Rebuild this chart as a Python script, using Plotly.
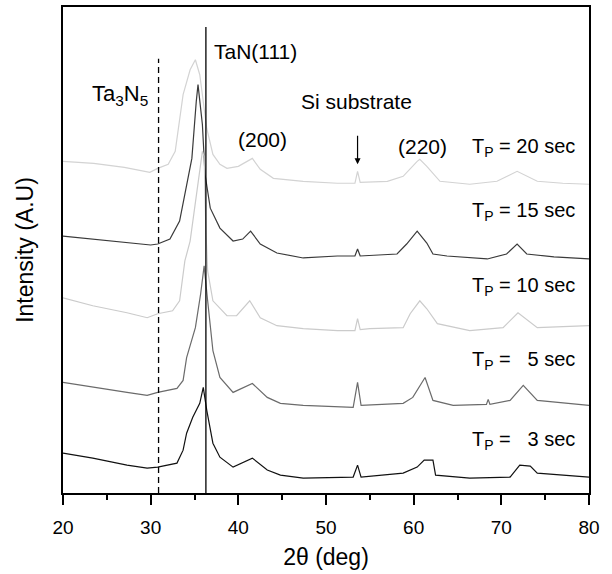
import plotly.graph_objects as go

# ---- data (2theta in degrees, intensity in arbitrary units incl. vertical offset) ----
tp20_x = [20.0, 23.5, 27.0, 29.9, 30.8, 32.0, 32.8, 33.7, 34.5, 35.1, 35.6, 36.0, 36.4, 37.1, 37.9, 38.7,
          40.0, 41.6, 42.5, 44.0, 47.4, 51.3, 53.3, 53.6, 53.9, 57.0, 58.8, 60.4, 60.7, 61.5, 63.0, 66.4,
          69.5, 71.8, 74.1, 77.0, 80.0]
tp20_y = [333, 331, 327, 322, 326, 330, 343, 400, 425, 435, 420, 393, 366, 340, 330, 326,
          328, 336, 325, 316, 313, 311, 311, 323, 312, 313, 318, 333, 335, 328, 313, 310,
          313, 323, 313, 311, 310]

tp15_x = [20.0, 23.5, 27.0, 30.0, 30.8, 32.2, 33.3, 34.1, 34.7, 35.2, 35.4, 35.9, 36.2, 36.8, 37.9, 39.4,
          40.5, 41.4, 42.5, 44.4, 47.4, 51.3, 53.3, 53.6, 53.9, 58.1, 59.2, 60.4, 60.7, 61.5, 62.2, 63.8,
          68.4, 70.6, 71.8, 72.9, 76.0, 80.0]
tp15_y = [258, 255, 252, 249, 250, 255, 273, 310, 336, 393, 410, 370, 320, 286, 266, 253,
          255, 263, 250, 241, 236, 238, 238, 245, 238, 240, 250, 263, 260, 251, 240, 238,
          235, 240, 250, 240, 237, 235]

tp10_x = [20.0, 23.4, 27.3, 29.6, 30.8, 32.5, 33.3, 33.9, 34.5, 35.1, 35.6, 35.9, 36.1, 36.3, 36.5, 37.1,
          38.7, 39.8, 41.3, 42.5, 44.4, 47.4, 51.3, 53.3, 53.6, 53.9, 55.0, 58.8, 59.6, 60.7, 61.5, 62.7,
          66.4, 70.2, 71.9, 74.1, 80.0]
tp10_y = [196, 188, 181, 176, 180, 183, 193, 233, 253, 293, 328, 343, 338, 263, 223, 193,
          178, 178, 193, 176, 168, 165, 163, 163, 175, 164, 165, 166, 180, 193, 185, 170,
          163, 166, 181, 166, 168]

tp5_x = [20.0, 23.4, 27.3, 29.6, 30.8, 33.0, 33.7, 34.1, 34.7, 35.1, 35.7, 36.1, 36.5, 37.1, 37.9, 39.4,
         41.6, 43.3, 44.8, 47.4, 53.1, 53.6, 54.0, 58.8, 59.9, 61.3, 62.2, 64.5, 68.3, 68.5, 68.7, 71.0,
         72.5, 74.1, 80.0]
tp5_y = [111, 106, 101, 98, 101, 105, 113, 136, 153, 166, 200, 228, 193, 143, 116, 101,
         110, 96, 90, 88, 86, 111, 88, 90, 96, 116, 93, 88, 89, 94, 89, 93,
         108, 93, 88]

tp3_x = [20.0, 23.4, 27.3, 29.6, 30.8, 33.0, 33.7, 34.1, 34.8, 35.6, 36.0, 36.4, 37.1, 37.9, 39.4, 41.6,
         43.3, 44.8, 47.4, 53.1, 53.6, 54.0, 58.8, 60.4, 61.2, 62.2, 62.5, 66.4, 71.0, 72.1, 73.3, 74.1,
         80.0]
tp3_y = [40, 35, 28, 25, 26, 30, 43, 60, 76, 90, 106, 83, 50, 36, 26, 35,
         23, 18, 15, 16, 28, 16, 20, 26, 33, 33, 18, 15, 16, 28, 27, 20,
         16]

series_names = ["T<sub>P</sub> = 20 sec", "T<sub>P</sub> = 15 sec", "T<sub>P</sub> = 10 sec",
                "T<sub>P</sub> =\u00a0\u00a0 5 sec", "T<sub>P</sub> =\u00a0\u00a0 3 sec"]
label_y = [347, 283, 207, 133, 53]

ta3n5_pos = 30.9
tan111_pos = 36.3
ref_line_top = [436, 468]
si_peak = (53.6, 330)

FONT = "Liberation Sans, Arial, sans-serif"
colors = ["#d3d3d3", "#3a3a3a", "#cbcbcb", "#6b6b6b", "#111111"]

fig = go.Figure()
for xs, ys, c in zip([tp20_x, tp15_x, tp10_x, tp5_x, tp3_x],
                     [tp20_y, tp15_y, tp10_y, tp5_y, tp3_y], colors):
    fig.add_trace(go.Scatter(x=xs, y=ys, mode="lines", line=dict(color=c, width=1.2),
                             showlegend=False, hoverinfo="skip"))

fig.add_trace(go.Scatter(x=[ta3n5_pos, ta3n5_pos], y=[0, ref_line_top[0]], mode="lines",
                         line=dict(color="black", width=1.3, dash="6px,4px"), showlegend=False))
fig.add_trace(go.Scatter(x=[tan111_pos, tan111_pos], y=[0, ref_line_top[1]], mode="lines",
                         line=dict(color="black", width=1.3), showlegend=False))

AF = dict(family=FONT, size=21, color="black")
anns = []
anns.append(dict(x=37.0, y=443, text="TaN(111)", xanchor="left", yanchor="middle", showarrow=False, font=AF))
anns.append(dict(x=29.9, y=400, text="Ta<sub>3</sub>N<sub>5</sub>", xanchor="right", yanchor="middle",
                 showarrow=False, font=dict(family=FONT, size=22, color="black")))
anns.append(dict(x=42.75, y=355, text="(200)", xanchor="center", yanchor="middle", showarrow=False, font=AF))
anns.append(dict(x=53.5, y=393, text="Si substrate", xanchor="center", yanchor="middle", showarrow=False, font=AF))
anns.append(dict(x=61.0, y=348, text="(220)", xanchor="center", yanchor="middle", showarrow=False, font=AF))
for name, ly in zip(series_names, label_y):
    anns.append(dict(x=78.6, y=ly, text=name, xanchor="right", yanchor="middle", showarrow=False,
                     font=dict(family=FONT, size=20, color="black")))
anns.append(dict(x=si_peak[0], y=si_peak[1], ax=0, ay=-30, text="", showarrow=True,
                 arrowhead=2, arrowsize=1, arrowwidth=1.2, arrowcolor="black"))

fig.update_layout(
    width=612, height=574,
    margin=dict(l=63, r=23, t=5, b=81),
    paper_bgcolor="white", plot_bgcolor="white",
    font=dict(family=FONT, size=19, color="black"),
    annotations=anns,
    xaxis=dict(range=[20, 80], tickvals=[20, 30, 40, 50, 60, 70, 80], ticks="outside", ticklen=10,
               tickwidth=1.5, tickcolor="black", showline=True, linewidth=2, linecolor="black",
               mirror=True, showgrid=False, zeroline=False,
               minor=dict(tickvals=[25, 35, 45, 55, 65, 75], ticks="outside", ticklen=5, tickwidth=1.5,
                          tickcolor="black"),
               title=dict(text="2θ (deg)", standoff=12), ticklabelstandoff=6),
    yaxis=dict(range=[0, 488], showticklabels=False, ticks="", showline=True, linewidth=2,
               linecolor="black", mirror=True, showgrid=False, zeroline=False,
               title=dict(text="Intensity (A.U)", standoff=21)),
)

fig.write_html("out.html")
